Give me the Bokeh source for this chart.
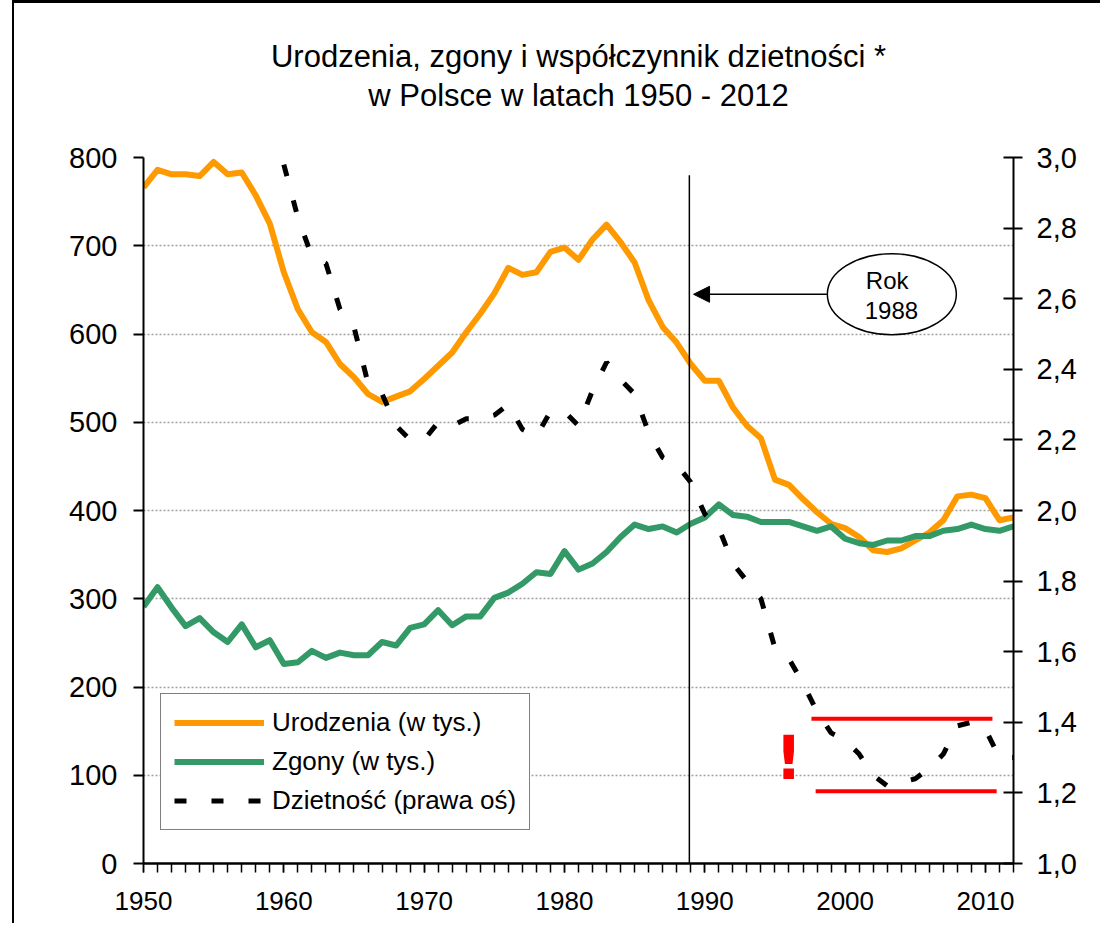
from bokeh.plotting import figure
from bokeh.models import (Range1d, LinearAxis, FixedTicker, CustomJSTickFormatter, Legend,
                          LegendItem, Title, Arrow, NormalHead)
from bokeh.embed import file_html
from bokeh.resources import INLINE
from bokeh.core.properties import value

# ---------------- data ----------------
years = list(range(1950, 2013))
births = [766, 786, 781, 781, 779, 795, 781, 783, 757, 725,
          670, 628, 602, 591, 566, 551, 532, 523, 529, 535,
          549, 564, 579, 602, 623, 646, 675, 667, 670, 693,
          698, 684, 707, 724, 704, 681, 638, 608, 590, 566,
          547, 547, 517, 496, 482, 435, 429, 413, 398, 385,
          380, 370, 355, 353, 357, 366, 375, 389, 416, 418,
          414, 389, 392]
deaths = [291, 313, 290, 269, 278, 262, 251, 271, 245, 253,
          226, 228, 241, 233, 239, 236, 236, 251, 247, 267,
          271, 287, 270, 280, 280, 301, 307, 317, 330, 328,
          354, 333, 340, 353, 370, 384, 379, 382, 375, 385,
          392, 407, 395, 393, 387, 387, 387, 382, 377, 382,
          368, 363, 361, 366, 366, 371, 371, 377, 379, 384,
          379, 377, 382]
tfr_years = list(range(1960, 2013))
tfr = [2.98, 2.83, 2.72, 2.70, 2.57, 2.52, 2.36, 2.33, 2.24, 2.20,
       2.20, 2.25, 2.24, 2.26, 2.26, 2.27, 2.30, 2.23, 2.21, 2.28,
       2.28, 2.24, 2.34, 2.42, 2.37, 2.33, 2.22, 2.15, 2.13, 2.08,
       1.99, 1.95, 1.85, 1.80, 1.75, 1.61, 1.58, 1.51, 1.43, 1.37,
       1.35, 1.31, 1.25, 1.22, 1.23, 1.24, 1.27, 1.31, 1.39, 1.40,
       1.38, 1.30, 1.30]

title_lines = ["Urodzenia, zgony i współczynnik dzietności *",
               "w Polsce w latach 1950 - 2012"]
x_major = [1950, 1960, 1970, 1980, 1990, 2000, 2010]
left_ticks = [0, 100, 200, 300, 400, 500, 600, 700, 800]
right_ticks = [1.0, 1.2, 1.4, 1.6, 1.8, 2.0, 2.2, 2.4, 2.6, 2.8, 3.0]
right_tick_labels = ["1,0", "1,2", "1,4", "1,6", "1,8", "2,0", "2,2", "2,4", "2,6", "2,8", "3,0"]
legend_labels = ["Urodzenia (w tys.)", "Zgony (w tys.)", "Dzietność (prawa oś)"]
note_lines = ["Rok", "1988"]

FONT = "Liberation Sans"

# ---------------- figure ----------------
p = figure(width=1100, height=923, x_range=Range1d(1950, 2012), y_range=Range1d(0, 800),
           output_backend="svg", toolbar_location=None,
           min_border_left=143, min_border_right=87, min_border_top=157, min_border_bottom=60)
p.extra_y_ranges = {"right": Range1d(1.0, 3.0)}
p.outline_line_color = None
p.background_fill_color = "white"
p.border_fill_color = None
p.styles = {"background-color": "white",
            "background-image": "linear-gradient(black, black), linear-gradient(black, black)",
            "background-size": "2px 100%, 100% 3px",
            "background-position": "12px 0px, 12px 0px",
            "background-repeat": "no-repeat"}

# title (two lines, stacked above the frame; first added sits closest to the frame)
p.add_layout(Title(text=" ", text_font_size="38px", standoff=0), "above")
p.add_layout(Title(text=title_lines[1], align="center", text_font=FONT, text_font_size="31px",
                   text_font_style="normal", text_color="black", standoff=2), "above")
p.add_layout(Title(text=title_lines[0], align="center", text_font=FONT, text_font_size="31px",
                   text_font_style="normal", text_color="black", standoff=2), "above")

# x axis
xa = p.xaxis[0]
xa.ticker = FixedTicker(ticks=x_major, minor_ticks=years)
xa.major_tick_in = 0
xa.major_tick_out = 9
xa.minor_tick_in = 0
xa.minor_tick_out = 9
xa.axis_line_width = 2.5
xa.major_tick_line_width = 1.5
xa.minor_tick_line_width = 1.5
xa.axis_line_color = "black"
xa.major_tick_line_color = "black"
xa.minor_tick_line_color = "black"
xa.major_label_text_font = FONT
xa.major_label_text_font_size = "26px"
xa.major_label_text_color = "black"
xa.major_label_standoff = 19

# left axis
ya = p.yaxis[0]
ya.ticker = FixedTicker(ticks=left_ticks, minor_ticks=[])
ya.major_tick_in = 0
ya.major_tick_out = 10
ya.minor_tick_out = 0
ya.axis_line_width = 2
ya.major_tick_line_width = 2
ya.axis_line_color = "black"
ya.major_tick_line_color = "black"
ya.major_label_text_font = FONT
ya.major_label_text_font_size = "29px"
ya.major_label_text_color = "black"
ya.major_label_standoff = 16

# right axis
ra = LinearAxis(y_range_name="right",
                ticker=FixedTicker(ticks=right_ticks, minor_ticks=[]),
                formatter=CustomJSTickFormatter(
                    args=dict(rt=right_ticks, rl=right_tick_labels),
                    code="const i = rt.findIndex(t => Math.abs(t - tick) < 1e-6); return i >= 0 ? rl[i] : '';"))
ra.major_tick_in = 10
ra.major_tick_out = 9
ra.minor_tick_in = 0
ra.minor_tick_out = 0
ra.axis_line_width = 2
ra.major_tick_line_width = 2
ra.axis_line_color = "black"
ra.major_tick_line_color = "black"
ra.major_label_text_font = FONT
ra.major_label_text_font_size = "29px"
ra.major_label_text_color = "black"
ra.major_label_standoff = 14
p.add_layout(ra, "right")

# grid
p.xgrid.visible = False
p.ygrid.ticker = FixedTicker(ticks=left_ticks[1:])
p.ygrid.grid_line_color = "#A0A0A0"
p.ygrid.grid_line_dash = "2 2"
p.ygrid.grid_line_width = 1.5

# series
r_b = p.line(years, births, line_color="#FF9900", line_width=6, line_join="round")
r_d = p.line(years, deaths, line_color="#339966", line_width=6, line_join="round")
r_f = p.line(tfr_years, tfr, y_range_name="right", line_color="black", line_width=5,
             line_dash="12 25")

# "Rok 1988" annotation
p.segment(x0=[1988.9], y0=[0], x1=[1988.9], y1=[780], line_color="black", line_width=1.5)
p.add_layout(Arrow(end=NormalHead(size=16, fill_color="black", line_color="black"),
                   x_start=1998.7, y_start=645, x_end=1989.2, y_end=645,
                   line_color="black", line_width=1.5))
p.ellipse(x=[2003.33], y=[645], width=[129], height=[81], width_units="screen",
          height_units="screen", fill_color="white", line_color="black", line_width=1.5)
p.text(x=[2003.0, 2003.3], y=[660.5, 626.5], text=note_lines, text_font=value(FONT),
       text_font_size="24px", text_align="center", text_baseline="middle", text_color="black")

# red band and exclamation mark
p.segment(x0=[1997.6, 1997.9], y0=[1.41, 1.205], x1=[2010.5, 2010.8], y1=[1.41, 1.205],
          y_range_name="right", line_color="red", line_width=4)
p.text(x=[1995.97], y=[1.30], text=["!"], y_range_name="right", text_color="red",
       text_font=value("DejaVu Sans"), text_font_style="bold", text_font_size="60px",
       text_align="center", text_baseline="middle")

# legend
legend = Legend(items=[LegendItem(label=legend_labels[0], renderers=[r_b]),
                       LegendItem(label=legend_labels[1], renderers=[r_d]),
                       LegendItem(label=legend_labels[2], renderers=[r_f])],
                location=(17, 33), label_text_font=FONT, label_text_font_size="26px",
                label_text_color="black", glyph_width=90, glyph_height=29, label_height=29,
                label_standoff=8, spacing=8, padding=13, margin=0,
                border_line_color="black", border_line_width=1.5,
                background_fill_color="white", background_fill_alpha=1.0)
p.add_layout(legend)

open("out.html", "w").write(file_html(p, INLINE))
